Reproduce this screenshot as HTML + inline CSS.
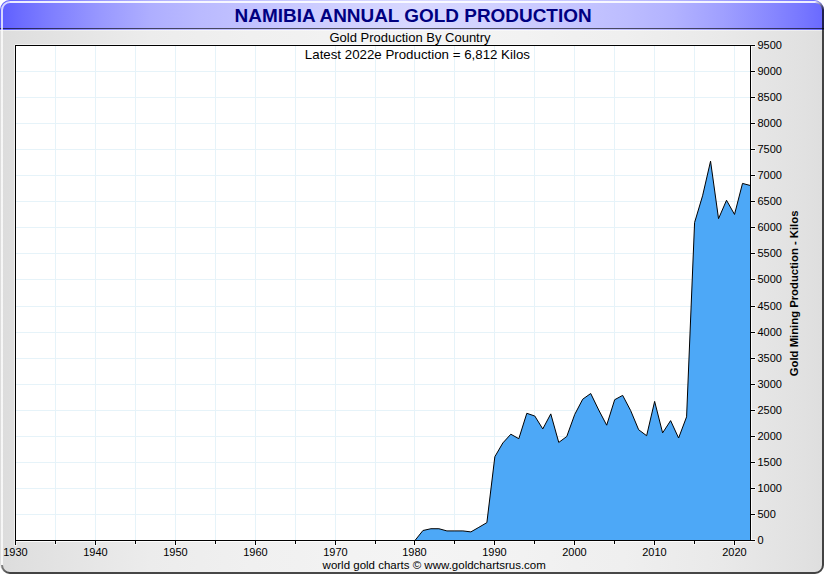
<!DOCTYPE html>
<html><head><meta charset="utf-8"><title>Namibia Annual Gold Production</title>
<style>
html,body{margin:0;padding:0;background:#fff;}
body{width:825px;height:575px;position:relative;overflow:hidden;font-family:"Liberation Sans",Arial,sans-serif;}
#frame{position:absolute;left:0;top:0;width:824px;height:574px;border-radius:10px;overflow:hidden;
 background:linear-gradient(to right,rgb(220,220,220) 0.00%,rgb(223,223,223) 2.43%,rgb(226,226,226) 6.07%,rgb(231,231,231) 12.14%,rgb(236,236,236) 18.20%,rgb(238,238,238) 24.27%,rgb(240,240,240) 30.34%,rgb(241,241,241) 36.41%,rgb(243,243,243) 42.48%,rgb(244,244,244) 50.97%,rgb(243,243,243) 57.52%,rgb(242,242,242) 63.59%,rgb(240,240,240) 69.66%,rgb(239,239,239) 75.73%,rgb(236,236,236) 81.80%,rgb(233,233,233) 87.86%,rgb(228,228,228) 93.93%,rgb(225,225,225) 97.57%,rgb(222,222,222) 100.00%);}
#tbar{position:absolute;left:0;top:0;width:824px;height:30px;
 background:linear-gradient(to right,rgb(94,94,255) 0.00%,rgb(108,108,255) 2.43%,rgb(126,126,255) 6.07%,rgb(152,152,255) 12.14%,rgb(174,174,255) 18.20%,rgb(186,186,255) 24.27%,rgb(194,194,255) 30.34%,rgb(202,202,255) 36.41%,rgb(209,209,255) 42.48%,rgb(216,216,255) 50.97%,rgb(211,211,255) 57.52%,rgb(204,204,255) 63.59%,rgb(197,197,255) 69.66%,rgb(189,189,255) 75.73%,rgb(178,178,255) 81.80%,rgb(159,159,255) 87.86%,rgb(134,134,255) 93.93%,rgb(118,118,255) 97.57%,rgb(105,105,255) 100.00%);}
#tline{position:absolute;left:0;top:28px;width:824px;height:1px;background:rgba(0,0,0,.62);}
#tline2{position:absolute;left:0;top:30px;width:824px;height:1px;background:rgba(255,255,255,.45);}
#title{position:absolute;left:0.6px;width:825px;top:5px;text-align:center;font-weight:bold;font-size:18.94px;color:#000080;line-height:22px;}
svg{position:absolute;left:0;top:0;}
svg text{font-family:"Liberation Sans",Arial,sans-serif;}
</style></head>
<body>
<div id="frame"><div id="tbar"></div><div id="tline"></div><div id="tline2"></div></div>
<svg width="825" height="575" style="position:absolute;left:0;top:0">
<defs>
<linearGradient id="gtr" gradientUnits="userSpaceOnUse" x1="815" y1="2" x2="823" y2="10"><stop offset="0" stop-color="#fff" stop-opacity=".85"/><stop offset="1" stop-color="#000" stop-opacity=".7"/></linearGradient>
<linearGradient id="gbl" gradientUnits="userSpaceOnUse" x1="2" y1="565" x2="10" y2="573"><stop offset="0" stop-color="#000" stop-opacity=".4"/><stop offset="1" stop-color="#000" stop-opacity=".7"/></linearGradient>
</defs>
<g fill="none" stroke-width="2">
<path d="M2,565 L2,10 A8,8 0 0 1 10,2" stroke="#fff" stroke-opacity=".75"/>
<path d="M10,2 L815,2" stroke="#fff" stroke-opacity=".88"/>
<path d="M815,2 A8,8 0 0 1 823,10" stroke="url(#gtr)"/>
<path d="M823,10 L823,565 A8,8 0 0 1 815,573 L10,573" stroke="#000" stroke-opacity=".7"/>
<path d="M10,573 A8,8 0 0 1 2,565" stroke="url(#gbl)"/>
</g>
</svg>
<div id="title">NAMIBIA ANNUAL GOLD PRODUCTION</div>
<svg width="825" height="575" viewBox="0 0 825 575">
<rect x="15.5" y="45.5" width="735" height="495" fill="#fff"/>
<g shape-rendering="crispEdges">
<rect x="15" y="44" width="736" height="1" fill="rgba(255,255,255,.5)"/>
<rect x="14" y="45" width="1" height="496" fill="rgba(255,255,255,.5)"/>
<rect x="751" y="45" width="1" height="497" fill="rgba(255,255,255,.85)"/>
<rect x="15" y="541" width="736" height="1" fill="rgba(255,255,255,.85)"/>
</g>
<g stroke="#e6f3f9" stroke-width="1" shape-rendering="crispEdges">
<line x1="55.5" y1="46" x2="55.5" y2="540"/>
<line x1="95.5" y1="46" x2="95.5" y2="540"/>
<line x1="135.5" y1="46" x2="135.5" y2="540"/>
<line x1="175.5" y1="46" x2="175.5" y2="540"/>
<line x1="215.5" y1="46" x2="215.5" y2="540"/>
<line x1="255.5" y1="46" x2="255.5" y2="540"/>
<line x1="295.5" y1="46" x2="295.5" y2="540"/>
<line x1="335.5" y1="46" x2="335.5" y2="540"/>
<line x1="375.5" y1="46" x2="375.5" y2="540"/>
<line x1="414.5" y1="46" x2="414.5" y2="540"/>
<line x1="454.5" y1="46" x2="454.5" y2="540"/>
<line x1="494.5" y1="46" x2="494.5" y2="540"/>
<line x1="534.5" y1="46" x2="534.5" y2="540"/>
<line x1="574.5" y1="46" x2="574.5" y2="540"/>
<line x1="614.5" y1="46" x2="614.5" y2="540"/>
<line x1="654.5" y1="46" x2="654.5" y2="540"/>
<line x1="694.5" y1="46" x2="694.5" y2="540"/>
<line x1="734.5" y1="46" x2="734.5" y2="540"/>
<line x1="16" y1="514.5" x2="750" y2="514.5"/>
<line x1="16" y1="488.5" x2="750" y2="488.5"/>
<line x1="16" y1="462.5" x2="750" y2="462.5"/>
<line x1="16" y1="436.5" x2="750" y2="436.5"/>
<line x1="16" y1="410.5" x2="750" y2="410.5"/>
<line x1="16" y1="384.5" x2="750" y2="384.5"/>
<line x1="16" y1="358.5" x2="750" y2="358.5"/>
<line x1="16" y1="332.5" x2="750" y2="332.5"/>
<line x1="16" y1="306.5" x2="750" y2="306.5"/>
<line x1="16" y1="279.5" x2="750" y2="279.5"/>
<line x1="16" y1="253.5" x2="750" y2="253.5"/>
<line x1="16" y1="227.5" x2="750" y2="227.5"/>
<line x1="16" y1="201.5" x2="750" y2="201.5"/>
<line x1="16" y1="175.5" x2="750" y2="175.5"/>
<line x1="16" y1="149.5" x2="750" y2="149.5"/>
<line x1="16" y1="123.5" x2="750" y2="123.5"/>
<line x1="16" y1="97.5" x2="750" y2="97.5"/>
<line x1="16" y1="71.5" x2="750" y2="71.5"/>
</g>
<text x="417.4" y="59" text-anchor="middle" font-size="13.3" fill="#000">Latest 2022e Production = 6,812 Kilos</text>
<polygon points="414.96,540.50 422.95,530.50 430.93,528.72 438.92,528.72 446.91,530.91 454.90,530.91 462.89,530.91 470.88,531.90 478.87,527.32 486.86,522.63 494.85,456.71 502.84,442.96 510.83,434.21 518.82,438.69 526.80,413.31 534.79,416.02 542.78,428.94 550.77,413.88 558.76,442.44 566.75,436.50 574.74,414.41 582.73,399.19 590.72,393.51 598.71,409.98 606.70,425.19 614.68,399.71 622.67,395.39 630.66,410.60 638.65,429.72 646.64,435.72 654.63,401.38 662.62,432.90 670.61,420.61 678.60,438.01 686.59,416.85 694.58,222.55 702.57,195.82 710.55,161.17 718.54,218.65 726.53,200.25 734.52,214.43 742.51,183.42 750.50,185.56 750.50,540.50 414.96,540.50" fill="#4da8f7" stroke="none"/>
<polyline points="414.96,540.50 422.95,530.50 430.93,528.72 438.92,528.72 446.91,530.91 454.90,530.91 462.89,530.91 470.88,531.90 478.87,527.32 486.86,522.63 494.85,456.71 502.84,442.96 510.83,434.21 518.82,438.69 526.80,413.31 534.79,416.02 542.78,428.94 550.77,413.88 558.76,442.44 566.75,436.50 574.74,414.41 582.73,399.19 590.72,393.51 598.71,409.98 606.70,425.19 614.68,399.71 622.67,395.39 630.66,410.60 638.65,429.72 646.64,435.72 654.63,401.38 662.62,432.90 670.61,420.61 678.60,438.01 686.59,416.85 694.58,222.55 702.57,195.82 710.55,161.17 718.54,218.65 726.53,200.25 734.52,214.43 742.51,183.42 750.50,185.56" fill="none" stroke="#000" stroke-width="1" stroke-linejoin="miter"/>
<rect x="15.5" y="45.5" width="735" height="495" fill="none" stroke="#000" stroke-width="1" shape-rendering="crispEdges"/>
<g fill="#fff" fill-opacity="0.55" shape-rendering="crispEdges">
<rect x="14.0" y="541" width="3" height="5"/>
<rect x="54.0" y="541" width="3" height="4"/>
<rect x="94.0" y="541" width="3" height="5"/>
<rect x="134.0" y="541" width="3" height="4"/>
<rect x="174.0" y="541" width="3" height="5"/>
<rect x="214.0" y="541" width="3" height="4"/>
<rect x="254.0" y="541" width="3" height="5"/>
<rect x="294.0" y="541" width="3" height="4"/>
<rect x="334.0" y="541" width="3" height="5"/>
<rect x="374.0" y="541" width="3" height="4"/>
<rect x="413.0" y="541" width="3" height="5"/>
<rect x="453.0" y="541" width="3" height="4"/>
<rect x="493.0" y="541" width="3" height="5"/>
<rect x="533.0" y="541" width="3" height="4"/>
<rect x="573.0" y="541" width="3" height="5"/>
<rect x="613.0" y="541" width="3" height="4"/>
<rect x="653.0" y="541" width="3" height="5"/>
<rect x="693.0" y="541" width="3" height="4"/>
<rect x="733.0" y="541" width="3" height="5"/>
<rect x="751" y="539.0" width="5" height="3"/>
<rect x="751" y="513.0" width="5" height="3"/>
<rect x="751" y="487.0" width="5" height="3"/>
<rect x="751" y="461.0" width="5" height="3"/>
<rect x="751" y="435.0" width="5" height="3"/>
<rect x="751" y="409.0" width="5" height="3"/>
<rect x="751" y="383.0" width="5" height="3"/>
<rect x="751" y="357.0" width="5" height="3"/>
<rect x="751" y="331.0" width="5" height="3"/>
<rect x="751" y="305.0" width="5" height="3"/>
<rect x="751" y="278.0" width="5" height="3"/>
<rect x="751" y="252.0" width="5" height="3"/>
<rect x="751" y="226.0" width="5" height="3"/>
<rect x="751" y="200.0" width="5" height="3"/>
<rect x="751" y="174.0" width="5" height="3"/>
<rect x="751" y="148.0" width="5" height="3"/>
<rect x="751" y="122.0" width="5" height="3"/>
<rect x="751" y="96.0" width="5" height="3"/>
<rect x="751" y="70.0" width="5" height="3"/>
<rect x="751" y="44.0" width="5" height="3"/>
</g>
<g stroke="#000" stroke-width="1" shape-rendering="crispEdges">
<line x1="15.5" y1="540" x2="15.5" y2="545"/>
<line x1="55.5" y1="540" x2="55.5" y2="544"/>
<line x1="95.5" y1="540" x2="95.5" y2="545"/>
<line x1="135.5" y1="540" x2="135.5" y2="544"/>
<line x1="175.5" y1="540" x2="175.5" y2="545"/>
<line x1="215.5" y1="540" x2="215.5" y2="544"/>
<line x1="255.5" y1="540" x2="255.5" y2="545"/>
<line x1="295.5" y1="540" x2="295.5" y2="544"/>
<line x1="335.5" y1="540" x2="335.5" y2="545"/>
<line x1="375.5" y1="540" x2="375.5" y2="544"/>
<line x1="414.5" y1="540" x2="414.5" y2="545"/>
<line x1="454.5" y1="540" x2="454.5" y2="544"/>
<line x1="494.5" y1="540" x2="494.5" y2="545"/>
<line x1="534.5" y1="540" x2="534.5" y2="544"/>
<line x1="574.5" y1="540" x2="574.5" y2="545"/>
<line x1="614.5" y1="540" x2="614.5" y2="544"/>
<line x1="654.5" y1="540" x2="654.5" y2="545"/>
<line x1="694.5" y1="540" x2="694.5" y2="544"/>
<line x1="734.5" y1="540" x2="734.5" y2="545"/>
<line x1="750" y1="540.5" x2="755" y2="540.5"/>
<line x1="750" y1="514.5" x2="755" y2="514.5"/>
<line x1="750" y1="488.5" x2="755" y2="488.5"/>
<line x1="750" y1="462.5" x2="755" y2="462.5"/>
<line x1="750" y1="436.5" x2="755" y2="436.5"/>
<line x1="750" y1="410.5" x2="755" y2="410.5"/>
<line x1="750" y1="384.5" x2="755" y2="384.5"/>
<line x1="750" y1="358.5" x2="755" y2="358.5"/>
<line x1="750" y1="332.5" x2="755" y2="332.5"/>
<line x1="750" y1="306.5" x2="755" y2="306.5"/>
<line x1="750" y1="279.5" x2="755" y2="279.5"/>
<line x1="750" y1="253.5" x2="755" y2="253.5"/>
<line x1="750" y1="227.5" x2="755" y2="227.5"/>
<line x1="750" y1="201.5" x2="755" y2="201.5"/>
<line x1="750" y1="175.5" x2="755" y2="175.5"/>
<line x1="750" y1="149.5" x2="755" y2="149.5"/>
<line x1="750" y1="123.5" x2="755" y2="123.5"/>
<line x1="750" y1="97.5" x2="755" y2="97.5"/>
<line x1="750" y1="71.5" x2="755" y2="71.5"/>
<line x1="750" y1="45.5" x2="755" y2="45.5"/>
</g>
<text x="410" y="41.5" text-anchor="middle" font-size="13" fill="#000">Gold Production By Country</text>
<g font-size="11" fill="#000">
<text x="15.5" y="556" text-anchor="middle">1930</text>
<text x="95.5" y="556" text-anchor="middle">1940</text>
<text x="175.5" y="556" text-anchor="middle">1950</text>
<text x="255.5" y="556" text-anchor="middle">1960</text>
<text x="335.5" y="556" text-anchor="middle">1970</text>
<text x="414.5" y="556" text-anchor="middle">1980</text>
<text x="494.5" y="556" text-anchor="middle">1990</text>
<text x="574.5" y="556" text-anchor="middle">2000</text>
<text x="654.5" y="556" text-anchor="middle">2010</text>
<text x="734.5" y="556" text-anchor="middle">2020</text>
<text x="757.5" y="544.4">0</text>
<text x="757.5" y="518.4">500</text>
<text x="757.5" y="492.4">1000</text>
<text x="757.5" y="466.4">1500</text>
<text x="757.5" y="440.4">2000</text>
<text x="757.5" y="414.4">2500</text>
<text x="757.5" y="388.4">3000</text>
<text x="757.5" y="362.4">3500</text>
<text x="757.5" y="336.4">4000</text>
<text x="757.5" y="310.4">4500</text>
<text x="757.5" y="283.4">5000</text>
<text x="757.5" y="257.4">5500</text>
<text x="757.5" y="231.4">6000</text>
<text x="757.5" y="205.4">6500</text>
<text x="757.5" y="179.4">7000</text>
<text x="757.5" y="153.4">7500</text>
<text x="757.5" y="127.4">8000</text>
<text x="757.5" y="101.4">8500</text>
<text x="757.5" y="75.4">9000</text>
<text x="757.5" y="49.4">9500</text>
</g>
<text transform="translate(798.3,293.4) rotate(-90)" text-anchor="middle" font-size="11.3" font-weight="bold" fill="#000">Gold Mining Production - Kilos</text>
<text x="434.2" y="569" text-anchor="middle" font-size="11.5" fill="#000">world gold charts © www.goldchartsrus.com</text>
</svg>
</body></html>
